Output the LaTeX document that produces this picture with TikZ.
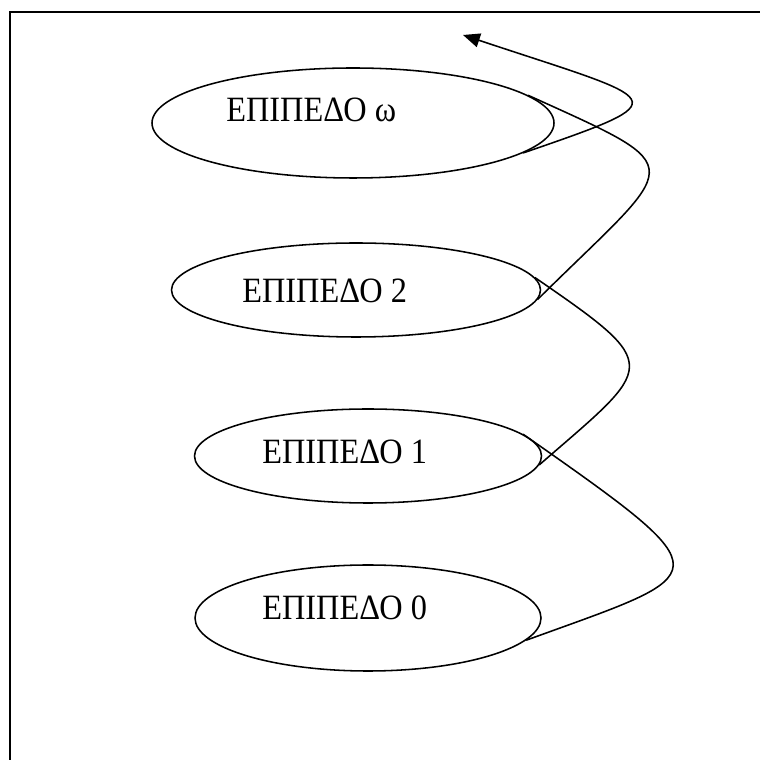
\documentclass[tikz,border=0pt]{standalone}
\usepackage{fontspec}
\setmainfont{Liberation Serif}
\usetikzlibrary{shapes.geometric,arrows.meta}

\begin{document}
\begin{tikzpicture}[
    level/.style={ellipse, draw, line width=1.1pt, inner sep=0pt},
    lvltext/.style={anchor=base west, inner sep=0pt, yscale=1.1, transform shape,
        font=\fontsize{23}{27}\selectfont},
    link/.style={line width=1.1pt},
    arrow/.style={link, -{Triangle[length=12pt,width=10pt]}}
]
\clip (0,0) rectangle (19,19);

% outer frame (runs off the page at right and bottom)
\draw[line width=1.1pt] (0.25,-1) rectangle (20,18.7);

% levels, bottom to top
\node[level, minimum width=8.65cm, minimum height=2.65cm] (lvl0) at (9.2,3.55) {};
\node[level, minimum width=8.675cm, minimum height=2.35cm] (lvl1) at (9.2,7.6) {};
\node[level, minimum width=9.225cm, minimum height=2.35cm] (lvl2) at (8.9,11.75) {};
\node[level, minimum width=10.05cm, minimum height=2.75cm] (lvlw) at (8.825,15.925) {};

\node[lvltext] (txt0) at (6.55,3.5) {ΕΠΙΠΕΔΟ 0};
\node[lvltext] (txt1) at (6.55,7.4) {ΕΠΙΠΕΔΟ 1};
\node[lvltext] (txt2) at (6.05,11.425) {ΕΠΙΠΕΔΟ 2};
\node[lvltext] (txtw) at (5.65,15.95) {ΕΠΙΠΕΔΟ ω};

% spiral going up through the levels
\draw[link] (lvl0.-8) .. controls +(20:5.05) and +(-35:6.3) .. (lvl1.8);
\draw[link] (lvl1.-3) .. controls +(41:3.84) and +(-34.5:3.96) .. (lvl2.4);
\draw[link] (lvl2.-3) .. controls +(44.7:5.03) and +(-24.4:4.6) .. (lvlw.9);
\coordinate (top) at (11.575,18.125);
\draw[arrow] (lvlw.-10) .. controls +(19:4.25) and +(-18.4:5.34) .. (top);

\end{tikzpicture}
\end{document}
